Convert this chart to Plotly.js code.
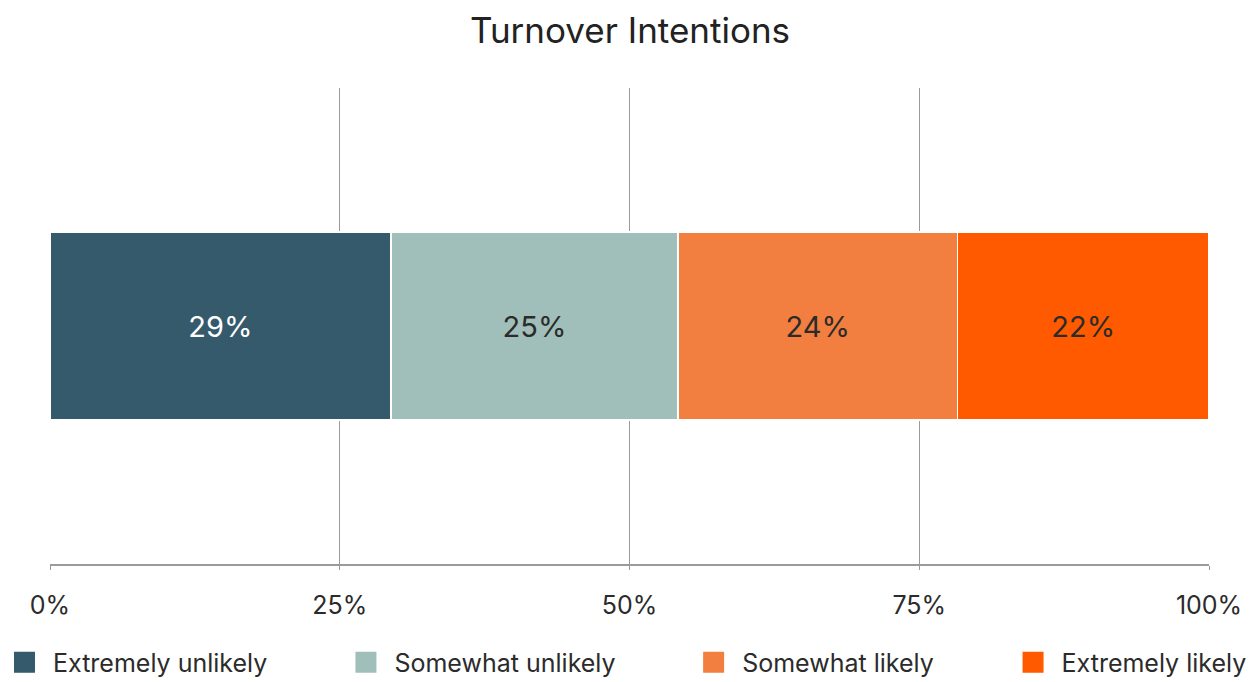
<!DOCTYPE html>
<html>
<head>
<meta charset="utf-8">
<script src="https://cdn.plot.ly/plotly-3.0.1.min.js"></script>
<style>html,body{margin:0;padding:0;background:#fff;}#chart{width:1260px;height:682px;}</style>
</head>
<body>
<div id="chart"></div>
<script>
var category = ["Turnover Intentions"];
var seriesNames = ["Extremely unlikely", "Somewhat unlikely", "Somewhat likely", "Extremely likely"];
var seriesValues = [29.4, 24.8, 24.1, 21.7];
var seriesColors = ["#355a6c", "#a0bfba", "#f27f3f", "#ff5a00"];
var textColors = ["#ffffff", "#2b2b2b", "#2b2b2b", "#2b2b2b"];
var tickValues = [0, 25, 50, 75, 100];
var tickLabels = ["0%", "25%", "50%", "75%", "100%"];

var FONT = "Inter, 'Open Sans', sans-serif";
var legendIds = ["legend", "legend2", "legend3", "legend4"];
var legendX = [-0.0466, 0.248, 0.548, 0.8236];

var traces = seriesNames.map(function (name, i) {
  return {
    type: "bar",
    orientation: "h",
    name: name,
    y: category,
    x: [seriesValues[i]],
    width: 0.395,
    showlegend: false,
    marker: { color: seriesColors[i], line: { color: "#ffffff", width: 1.5 } },
    texttemplate: "%{x:.0f}%",
    textposition: "inside",
    insidetextanchor: "middle",
    textfont: { family: FONT, size: 29, color: textColors[i] },
    hoverinfo: "name+x"
  };
});

// legend-only proxies (no data drawn) so the legend swatches can be larger squares
seriesNames.forEach(function (name, i) {
  traces.push({
    type: "scatter",
    mode: "markers",
    name: name,
    x: [null],
    y: [null],
    legend: legendIds[i],
    showlegend: true,
    hoverinfo: "skip",
    marker: { symbol: "square", size: 16, color: seriesColors[i], line: { color: seriesColors[i], width: 5 } }
  });
});

var layout = {
  width: 1260,
  height: 682,
  barmode: "stack",
  paper_bgcolor: "#ffffff",
  plot_bgcolor: "#ffffff",
  margin: { l: 50, r: 51, t: 88, b: 118, autoexpand: false },
  title: {
    text: "Turnover Intentions",
    font: { family: FONT, size: 35, color: "#222222" },
    x: 0.5, xanchor: "center",
    y: 0.955, yanchor: "middle"
  },
  font: { family: FONT, color: "#2b2b2b" },
  xaxis: {
    range: [0, 100],
    tickvals: tickValues,
    ticktext: tickLabels,
    showgrid: true,
    gridcolor: "#9a9a9a",
    gridwidth: 1,
    zeroline: false,
    showline: true,
    linecolor: "#9a9a9a",
    linewidth: 1.5,
    ticks: "outside",
    ticklen: 4,
    tickcolor: "#9a9a9a",
    ticklabelstandoff: 14,
    tickfont: { family: FONT, size: 25, color: "#2b2b2b" },
    fixedrange: true
  },
  yaxis: {
    range: [-0.5, 0.5],
    showticklabels: false,
    showgrid: false,
    zeroline: false,
    showline: false,
    ticks: "",
    fixedrange: true
  }
};

legendIds.forEach(function (id, i) {
  layout[id] = {
    orientation: "h",
    x: legendX[i], xanchor: "left",
    y: -0.207, yanchor: "middle",
    itemwidth: 47,
    bgcolor: "rgba(0,0,0,0)",
    font: { family: FONT, size: 25, color: "#2b2b2b" }
  };
});

Plotly.newPlot("chart", traces, layout, { displayModeBar: false, staticPlot: true });
</script>
</body>
</html>
